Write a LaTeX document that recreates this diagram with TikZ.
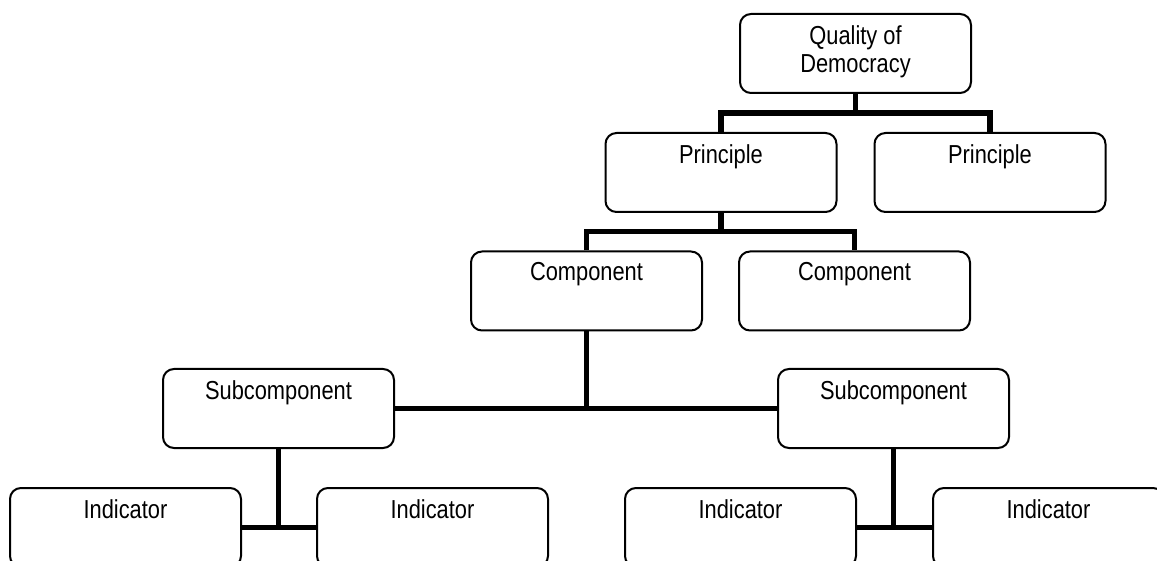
\documentclass[tikz,border=0pt]{standalone}
\usepackage{fontspec}
\setmainfont{Liberation Sans}[FakeStretch=0.84]
\usetikzlibrary{calc}

\tikzset{
  box/.style={draw=black, line width=2pt, rounded corners=11pt, fill=white,
    minimum width=231pt, minimum height=79pt, inner sep=0pt},
  conn/.style={draw=black, line width=5.5pt, line join=miter},
  title/.style={anchor=north, inner sep=0pt, yshift=-12pt, align=center,
    font=\fontsize{26}{28}\selectfont}
}

\begin{document}
\begin{tikzpicture}[x=1pt, y=-1pt]
  \useasboundingbox (0,0) rectangle (1157,561);

  % box centres
  \coordinate (qodc) at (855.5,53.5);
  \coordinate (p1c) at (721,172.5);
  \coordinate (p2c) at (990,172.5);
  \coordinate (c1c) at (586.5,291);
  \coordinate (c2c) at (854.5,291);
  \coordinate (s1c) at (278.5,408.5);
  \coordinate (s2c) at (893.5,408.5);
  \coordinate (i1c) at (125.5,527.5);
  \coordinate (i2c) at (432.5,527.5);
  \coordinate (i3c) at (740.5,527.5);
  \coordinate (i4c) at (1048.5,527.5);

  % boxes
  \node[box, label={[title]north:Quality of\\Democracy}] (qod) at (qodc) {};
  \node[box, label={[title]north:Principle}] (p1) at (p1c) {};
  \node[box, label={[title]north:Principle}] (p2) at (p2c) {};
  \node[box, label={[title]north:Component}] (c1) at (c1c) {};
  \node[box, label={[title]north:Component}] (c2) at (c2c) {};
  \node[box, label={[title]north:Subcomponent}] (s1) at (s1c) {};
  \node[box, label={[title]north:Subcomponent}] (s2) at (s2c) {};
  \node[box, label={[title]north:Indicator}] (i1) at (i1c) {};
  \node[box, label={[title]north:Indicator}] (i2) at (i2c) {};
  \node[box, label={[title]north:Indicator}] (i3) at (i3c) {};
  \node[box, label={[title]north:Indicator}] (i4) at (i4c) {};

  % top level: quality of democracy to principles
  \coordinate (j1) at ($(qod.south)!0.5!(qod.south |- p1.north)$);
  \draw[conn] (qod.south) -- (j1);
  \draw[conn] (p1.north) |- (p2.north |- j1) -- (p2.north);

  % principle to components
  \coordinate (j2) at ($(p1.south)!0.5!(p1.south |- c1.north)$);
  \draw[conn] (p1.south) -- (j2);
  \draw[conn] (c1.north) |- (c2.north |- j2) -- (c2.north);

  % component to subcomponents
  \draw[conn] (c1.south) -- (c1.south |- s1.east);
  \draw[conn] (s1.east) -- (s2.west);

  % subcomponents to indicators
  \draw[conn] (s1.south) -- (s1.south |- i1.east);
  \draw[conn] (i1.east) -- (i2.west);
  \draw[conn] (s2.south) -- (s2.south |- i3.east);
  \draw[conn] (i3.east) -- (i4.west);
\end{tikzpicture}
\end{document}
